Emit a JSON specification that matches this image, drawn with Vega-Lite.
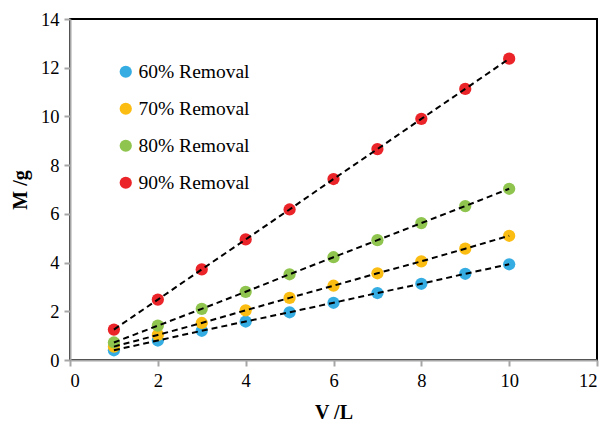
{
  "$schema": "https://vega.github.io/schema/vega-lite/v6.json",
  "width": 527,
  "height": 341,
  "autosize": {"type": "none"},
  "padding": {"left": 70, "top": 19, "right": 7, "bottom": 63},
  "background": "white",
  "config": {
    "font": "'Liberation Serif', 'Times New Roman', serif",
    "view": {"stroke": "black", "strokeWidth": 2},
    "axis": {
      "grid": false,
      "domainColor": "#a6a6a6",
      "domainWidth": 2,
      "tickColor": "#a6a6a6",
      "tickWidth": 2,
      "tickSize": 6,
      "labelFont": "'Liberation Serif', 'Times New Roman', serif",
      "labelFontSize": 18.5,
      "labelColor": "black",
      "labelPadding": 5,
      "titleFont": "'Liberation Serif', 'Times New Roman', serif",
      "titleFontSize": 20,
      "titleFontWeight": "bold",
      "titleColor": "black"
    },
    "legend": {
      "labelFont": "'Liberation Serif', 'Times New Roman', serif"
    }
  },
  "data": {
    "values": [
      {"V": 1, "M": 0.4, "series": "60% Removal"},
      {"V": 2, "M": 0.8, "series": "60% Removal"},
      {"V": 3, "M": 1.2, "series": "60% Removal"},
      {"V": 4, "M": 1.58, "series": "60% Removal"},
      {"V": 5, "M": 1.96, "series": "60% Removal"},
      {"V": 6, "M": 2.35, "series": "60% Removal"},
      {"V": 7, "M": 2.75, "series": "60% Removal"},
      {"V": 8, "M": 3.13, "series": "60% Removal"},
      {"V": 9, "M": 3.54, "series": "60% Removal"},
      {"V": 10, "M": 3.93, "series": "60% Removal"},
      {"V": 1, "M": 0.55, "series": "70% Removal"},
      {"V": 2, "M": 1.03, "series": "70% Removal"},
      {"V": 3, "M": 1.52, "series": "70% Removal"},
      {"V": 4, "M": 2.04, "series": "70% Removal"},
      {"V": 5, "M": 2.55, "series": "70% Removal"},
      {"V": 6, "M": 3.05, "series": "70% Removal"},
      {"V": 7, "M": 3.56, "series": "70% Removal"},
      {"V": 8, "M": 4.05, "series": "70% Removal"},
      {"V": 9, "M": 4.57, "series": "70% Removal"},
      {"V": 10, "M": 5.1, "series": "70% Removal"},
      {"V": 1, "M": 0.72, "series": "80% Removal"},
      {"V": 2, "M": 1.41, "series": "80% Removal"},
      {"V": 3, "M": 2.1, "series": "80% Removal"},
      {"V": 4, "M": 2.8, "series": "80% Removal"},
      {"V": 5, "M": 3.52, "series": "80% Removal"},
      {"V": 6, "M": 4.22, "series": "80% Removal"},
      {"V": 7, "M": 4.92, "series": "80% Removal"},
      {"V": 8, "M": 5.62, "series": "80% Removal"},
      {"V": 9, "M": 6.32, "series": "80% Removal"},
      {"V": 10, "M": 7.03, "series": "80% Removal"},
      {"V": 1, "M": 1.25, "series": "90% Removal"},
      {"V": 2, "M": 2.48, "series": "90% Removal"},
      {"V": 3, "M": 3.72, "series": "90% Removal"},
      {"V": 4, "M": 4.95, "series": "90% Removal"},
      {"V": 5, "M": 6.18, "series": "90% Removal"},
      {"V": 6, "M": 7.43, "series": "90% Removal"},
      {"V": 7, "M": 8.66, "series": "90% Removal"},
      {"V": 8, "M": 9.9, "series": "90% Removal"},
      {"V": 9, "M": 11.13, "series": "90% Removal"},
      {"V": 10, "M": 12.37, "series": "90% Removal"}
    ]
  },
  "encoding": {
    "x": {
      "field": "V", "type": "quantitative",
      "scale": {"domain": [0, 12], "nice": false},
      "axis": {"values": [0, 2, 4, 6, 8, 10, 12], "title": "V /L", "titlePadding": 13}
    },
    "y": {
      "field": "M", "type": "quantitative",
      "scale": {"domain": [0, 14], "nice": false},
      "axis": {"values": [0, 2, 4, 6, 8, 10, 12, 14], "title": "M /g", "titlePadding": 10}
    }
  },
  "layer": [
    {
      "mark": {"type": "point", "filled": true, "opacity": 1, "size": 150, "shape": "circle"},
      "encoding": {
        "color": {
          "field": "series", "type": "nominal",
          "scale": {
            "domain": ["60% Removal", "70% Removal", "80% Removal", "90% Removal"],
            "range": ["#35ade3", "#fbbd12", "#8fc54e", "#ea2428"]
          },
          "legend": {
            "title": null,
            "orient": "none",
            "legendX": 46,
            "legendY": 43,
            "labelFont": "'Liberation Serif', 'Times New Roman', serif",
            "labelFontSize": 19.5,
            "labelColor": "black",
            "symbolSize": 150,
            "symbolType": "circle",
            "symbolStrokeWidth": 0,
            "labelOffset": 3,
            "rowPadding": 16
          }
        }
      }
    },
    {
      "mark": {"type": "line", "color": "black", "strokeWidth": 2, "strokeDash": [6, 4]},
      "encoding": {"detail": {"field": "series"}}
    }
  ]
}
